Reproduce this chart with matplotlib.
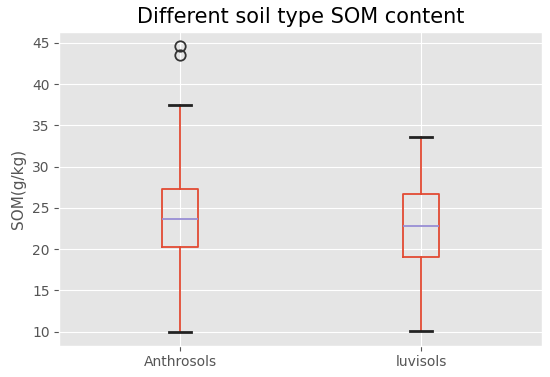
import matplotlib
matplotlib.use("Agg")
import matplotlib.pyplot as plt

plt.style.use("ggplot")

# box statistics
soil_types = ["Anthrosols", "luvisols"]
whislo = [9.9, 10.1]
q1 = [20.2, 19.0]
med = [23.7, 22.8]
q3 = [27.3, 26.7]
whishi = [37.5, 33.6]
fliers = [[44.6, 43.6], []]


def main() -> None:
    fig = plt.figure(figsize=(5.5, 3.77), dpi=100)
    ax = fig.add_axes([0.108, 0.083, 0.877, 0.833])

    stats = []
    for i, name in enumerate(soil_types):
        stats.append({
            "label": name,
            "whislo": whislo[i],
            "q1": q1[i],
            "med": med[i],
            "q3": q3[i],
            "whishi": whishi[i],
            "fliers": fliers[i],
        })

    red = "#E24A33"
    ax.bxp(
        stats,
        widths=0.15,
        capwidths=0.09,
        boxprops=dict(color=red, linewidth=1.3),
        whiskerprops=dict(color=red, linewidth=1.3),
        medianprops=dict(color="#988ED5", linewidth=1.3),
        capprops=dict(color="#222222", linewidth=2),
        flierprops=dict(marker="o", markerfacecolor="none",
                        markeredgecolor="#333333", markersize=7.5,
                        markeredgewidth=1.3),
    )
    ax.set_xlim(0.5, 2.5)
    ax.set_ylim(8.28, 46.37)
    ax.set_title("Different soil type SOM content", fontsize=15)
    ax.set_ylabel("SOM(g/kg)", fontsize=11)
    ax.tick_params(labelsize=10)

    plt.savefig("out.png")


if __name__ == '__main__':
    main()
